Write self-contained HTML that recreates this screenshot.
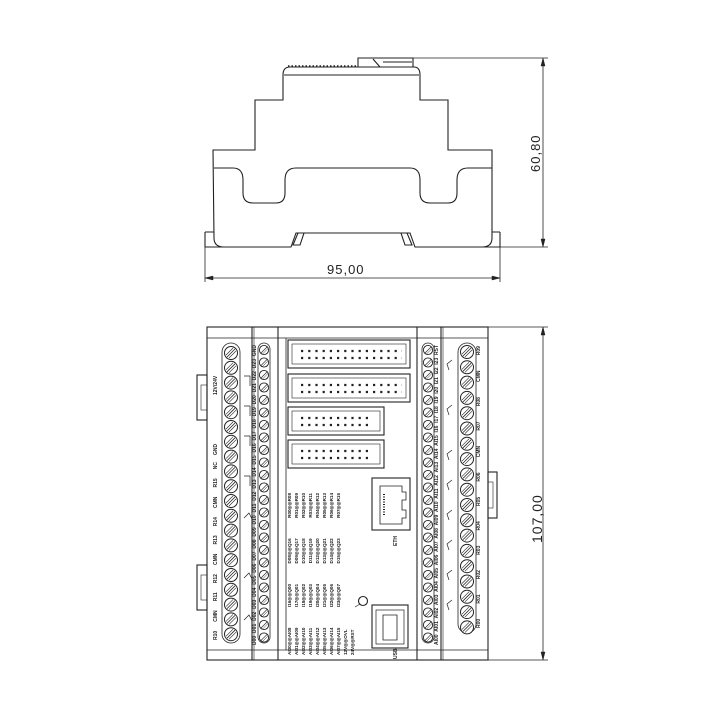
<!DOCTYPE html>
<html><head><meta charset="utf-8"><style>
html,body{margin:0;padding:0;background:#fff;}
body{position:relative;width:720px;height:720px;overflow:hidden;}
svg{position:absolute;left:0;top:0;}
.t{position:absolute;font-family:"Liberation Sans",sans-serif;color:#222;white-space:nowrap;transform-origin:0 0;transform:rotate(-90deg);line-height:1;}
.f{display:flex;justify-content:space-between;font-size:5px;font-weight:bold;}
.c{font-size:4.6px;display:flex;justify-content:space-between;font-weight:bold;}
.d{position:absolute;font-family:"Liberation Sans",sans-serif;color:#222;letter-spacing:1px;line-height:1;font-weight:normal;}
</style></head><body>
<svg width="720" height="720" viewBox="0 0 720 720" xmlns="http://www.w3.org/2000/svg" xmlns:xlink="http://www.w3.org/1999/xlink">
<defs>
<g id="sc"><circle r="6.5" fill="#fff" stroke="#222" stroke-width="1"/><line x1="-4" y1="4" x2="4" y2="-4" stroke="#222" stroke-width="0.8"/><line x1="-2" y1="5" x2="5" y2="-2" stroke="#222" stroke-width="0.6"/><line x1="-5" y1="2" x2="2" y2="-5" stroke="#222" stroke-width="0.6"/></g>
<g id="sm"><circle r="4.6" fill="#fff" stroke="#222" stroke-width="0.9"/><line x1="-3" y1="3" x2="3" y2="-3" stroke="#222" stroke-width="0.6"/><line x1="-1.5" y1="4" x2="4" y2="-1.5" stroke="#222" stroke-width="0.5"/></g>
</defs>
<g fill="none" stroke="#222" stroke-width="1.1">
<path d="M358,67 L358,58 L413,58 L413,67"/>
<line x1="373" y1="59" x2="380" y2="67"/><line x1="383" y1="62" x2="412" y2="62"/>
<line x1="288" y1="66" x2="356" y2="66" stroke-dasharray="1.5 2" stroke-width="1.5"/>
<path d="M283,75 Q283,67 290,67 L414,67 Q420,67 420,75 L420,100 L448,100 L448,150 L492,150 L492,238 Q492,247 482,247 L415,247 L410,233 L296,233 L291,247 L224,247 Q214,247 214,238 L213,150 L255,150 L255,100 L283,100 Z"/>
<line x1="284" y1="75" x2="419" y2="75"/>
<path d="M214,168 L233,168 Q243,168 243,180 L243,193 Q243,203 253,203 L276,203 Q285,203 285,193 L285,180 Q285,168 296,168 L410,168 Q420,168 420,180 L420,193 Q420,203 430,203 L448,203 Q457,203 457,193 L457,180 Q457,168 468,168 L492,168"/>
<path d="M205,232 L214,232 M205,232 L205,247 L224,247 M500,232 L492,232 M500,232 L500,247 L482,247"/>
<path d="M293,245 L298,233 L304,233 L300,245 Z M412,245 L407,233 L401,233 L405,245 Z"/>
<g stroke-width="0.8">
<line x1="413" y1="58" x2="548" y2="58"/><line x1="500" y1="247" x2="548" y2="247"/>
<line x1="543" y1="58" x2="543" y2="247"/>
<line x1="205" y1="247" x2="205" y2="282"/><line x1="500" y1="247" x2="500" y2="282"/>
<line x1="205" y1="278" x2="500" y2="278"/>
</g>
<path d="M543,58 l-2,8 l4,0 z M543,247 l-2,-8 l4,0 z M205,278 l8,-2 l0,4 z M500,278 l-8,-2 l0,4 z" fill="#222" stroke-width="0.5"/>

<rect x="207" y="327" width="281" height="333"/>
<line x1="207" y1="338" x2="488" y2="338" stroke-width="0.7"/>
<line x1="207" y1="650" x2="488" y2="650" stroke-width="0.7"/>
<line x1="252" y1="327" x2="252" y2="660"/><line x1="254" y1="327" x2="254" y2="660" stroke-width="0.6"/>
<line x1="278" y1="327" x2="278" y2="660"/><line x1="286" y1="338" x2="286" y2="650" stroke-width="0.8"/>
<line x1="417" y1="327" x2="417" y2="660"/><line x1="441" y1="327" x2="441" y2="660"/><line x1="443" y1="327" x2="443" y2="660" stroke-width="0.6"/>
<rect x="197" y="375" width="10" height="45"/><rect x="201" y="385" width="6" height="25" stroke-width="0.6"/>
<rect x="197" y="565" width="10" height="45"/><rect x="201" y="575" width="6" height="25" stroke-width="0.6"/>
<rect x="488" y="472" width="9" height="46"/><rect x="488" y="482" width="5" height="26" stroke-width="0.6"/>
<rect x="222" y="343" width="18" height="300" rx="9" stroke-width="0.8"/>
<rect x="458" y="343" width="18" height="290" rx="9" stroke-width="0.8"/>
<rect x="258" y="343" width="12" height="300" rx="6" stroke-width="0.8"/>
<rect x="422" y="343" width="12" height="300" rx="6" stroke-width="0.8"/>
<path d="M244,376 l6,0 l0,10 M244,406 l6,0 l0,10 M244,436 l6,0 l0,10 M244,476 l6,0 l0,10 M244,518 l5,-5 l3,6 M244,578 l5,-5 l3,6 M244,620 l5,-5 l3,6" stroke-width="0.7"/>
<path d="M452,360 l-5,4 l2,6 M452,405 l-5,4 l2,6 M452,450 l-5,4 l2,6 M452,480 l-5,4 l2,6 M452,510 l-5,4 l2,6 M452,540 l-5,4 l2,6 M452,570 l-5,4 l2,6 M452,600 l-5,4 l2,6" stroke-width="0.7"/>
<rect x="288" y="340" width="122" height="28"/><rect x="292" y="344" width="114" height="20" stroke-width="0.6"/>
<rect x="288" y="374" width="122" height="28"/><rect x="292" y="378" width="114" height="20" stroke-width="0.6"/>
<rect x="288" y="407" width="96" height="28"/><rect x="292" y="411" width="88" height="20" stroke-width="0.6"/>
<rect x="288" y="440" width="96" height="28"/><rect x="292" y="444" width="88" height="20" stroke-width="0.6"/>
<g stroke-width="2.2" stroke-dasharray="2.2 5">
<line x1="301" y1="351" x2="402" y2="351"/><line x1="301" y1="358" x2="402" y2="358"/>
<line x1="301" y1="385" x2="402" y2="385"/><line x1="301" y1="392" x2="402" y2="392"/>
<line x1="301" y1="418" x2="372" y2="418"/><line x1="301" y1="425" x2="372" y2="425"/>
<line x1="301" y1="451" x2="372" y2="451"/><line x1="301" y1="458" x2="372" y2="458"/>
</g>
<rect x="372" y="478" width="38" height="52"/>
<path d="M380,486 L402,486 L402,492 L406,492 L406,500 L402,500 L402,510 L406,510 L406,518 L402,518 L402,524 L380,524 Z" stroke-width="0.8"/>
<line x1="384" y1="494" x2="384" y2="516" stroke-width="2" stroke-dasharray="1 1.5"/>
<rect x="372" y="605" width="36" height="43"/><rect x="376" y="610" width="28" height="34" stroke-width="0.7"/>
<path d="M383,615 L397,615 L397,640 L383,640 Z" stroke-width="0.8"/>
<circle cx="363" cy="601" r="4.5"/><line x1="355" y1="607" x2="360" y2="604" stroke-width="0.7"/>
<g stroke-width="0.8"><line x1="488" y1="327" x2="548" y2="327"/><line x1="488" y1="660" x2="548" y2="660"/><line x1="543" y1="327" x2="543" y2="660"/></g>
<path d="M543,327 l-2,8 l4,0 z M543,660 l-2,-8 l4,0 z" fill="#222" stroke-width="0.5"/>
</g>
<g>
<use href="#sc" xlink:href="#sc" x="231" y="353"/><use href="#sc" xlink:href="#sc" x="231" y="367.8"/><use href="#sc" xlink:href="#sc" x="231" y="382.6"/><use href="#sc" xlink:href="#sc" x="231" y="397.4"/><use href="#sc" xlink:href="#sc" x="231" y="412.2"/><use href="#sc" xlink:href="#sc" x="231" y="427"/><use href="#sc" xlink:href="#sc" x="231" y="441.8"/><use href="#sc" xlink:href="#sc" x="231" y="456.6"/><use href="#sc" xlink:href="#sc" x="231" y="471.4"/><use href="#sc" xlink:href="#sc" x="231" y="486.2"/><use href="#sc" xlink:href="#sc" x="231" y="501"/><use href="#sc" xlink:href="#sc" x="231" y="515.8"/><use href="#sc" xlink:href="#sc" x="231" y="530.6"/><use href="#sc" xlink:href="#sc" x="231" y="545.4"/><use href="#sc" xlink:href="#sc" x="231" y="560.2"/><use href="#sc" xlink:href="#sc" x="231" y="575"/><use href="#sc" xlink:href="#sc" x="231" y="589.8"/><use href="#sc" xlink:href="#sc" x="231" y="604.6"/><use href="#sc" xlink:href="#sc" x="231" y="619.4"/><use href="#sc" xlink:href="#sc" x="231" y="634.2"/>
<use href="#sc" xlink:href="#sc" x="467" y="352"/><use href="#sc" xlink:href="#sc" x="467" y="367.3"/><use href="#sc" xlink:href="#sc" x="467" y="382.6"/><use href="#sc" xlink:href="#sc" x="467" y="397.9"/><use href="#sc" xlink:href="#sc" x="467" y="413.2"/><use href="#sc" xlink:href="#sc" x="467" y="428.5"/><use href="#sc" xlink:href="#sc" x="467" y="443.8"/><use href="#sc" xlink:href="#sc" x="467" y="459.1"/><use href="#sc" xlink:href="#sc" x="467" y="474.4"/><use href="#sc" xlink:href="#sc" x="467" y="489.7"/><use href="#sc" xlink:href="#sc" x="467" y="505"/><use href="#sc" xlink:href="#sc" x="467" y="520.3"/><use href="#sc" xlink:href="#sc" x="467" y="535.6"/><use href="#sc" xlink:href="#sc" x="467" y="550.9"/><use href="#sc" xlink:href="#sc" x="467" y="566.2"/><use href="#sc" xlink:href="#sc" x="467" y="581.5"/><use href="#sc" xlink:href="#sc" x="467" y="596.8"/><use href="#sc" xlink:href="#sc" x="467" y="612.1"/><use href="#sc" xlink:href="#sc" x="467" y="627.4"/>
<use href="#sm" xlink:href="#sm" x="264" y="350"/><use href="#sm" xlink:href="#sm" x="264" y="362.5"/><use href="#sm" xlink:href="#sm" x="264" y="375"/><use href="#sm" xlink:href="#sm" x="264" y="387.5"/><use href="#sm" xlink:href="#sm" x="264" y="400"/><use href="#sm" xlink:href="#sm" x="264" y="412.5"/><use href="#sm" xlink:href="#sm" x="264" y="425"/><use href="#sm" xlink:href="#sm" x="264" y="437.5"/><use href="#sm" xlink:href="#sm" x="264" y="450"/><use href="#sm" xlink:href="#sm" x="264" y="462.5"/><use href="#sm" xlink:href="#sm" x="264" y="475"/><use href="#sm" xlink:href="#sm" x="264" y="487.5"/><use href="#sm" xlink:href="#sm" x="264" y="500"/><use href="#sm" xlink:href="#sm" x="264" y="512.5"/><use href="#sm" xlink:href="#sm" x="264" y="525"/><use href="#sm" xlink:href="#sm" x="264" y="537.5"/><use href="#sm" xlink:href="#sm" x="264" y="550"/><use href="#sm" xlink:href="#sm" x="264" y="562.5"/><use href="#sm" xlink:href="#sm" x="264" y="575"/><use href="#sm" xlink:href="#sm" x="264" y="587.5"/><use href="#sm" xlink:href="#sm" x="264" y="600"/><use href="#sm" xlink:href="#sm" x="264" y="612.5"/><use href="#sm" xlink:href="#sm" x="264" y="625"/><use href="#sm" xlink:href="#sm" x="264" y="637.5"/>
<use href="#sm" xlink:href="#sm" x="428" y="350"/><use href="#sm" xlink:href="#sm" x="428" y="362.5"/><use href="#sm" xlink:href="#sm" x="428" y="375"/><use href="#sm" xlink:href="#sm" x="428" y="387.5"/><use href="#sm" xlink:href="#sm" x="428" y="400"/><use href="#sm" xlink:href="#sm" x="428" y="412.5"/><use href="#sm" xlink:href="#sm" x="428" y="425"/><use href="#sm" xlink:href="#sm" x="428" y="437.5"/><use href="#sm" xlink:href="#sm" x="428" y="450"/><use href="#sm" xlink:href="#sm" x="428" y="462.5"/><use href="#sm" xlink:href="#sm" x="428" y="475"/><use href="#sm" xlink:href="#sm" x="428" y="487.5"/><use href="#sm" xlink:href="#sm" x="428" y="500"/><use href="#sm" xlink:href="#sm" x="428" y="512.5"/><use href="#sm" xlink:href="#sm" x="428" y="525"/><use href="#sm" xlink:href="#sm" x="428" y="537.5"/><use href="#sm" xlink:href="#sm" x="428" y="550"/><use href="#sm" xlink:href="#sm" x="428" y="562.5"/><use href="#sm" xlink:href="#sm" x="428" y="575"/><use href="#sm" xlink:href="#sm" x="428" y="587.5"/><use href="#sm" xlink:href="#sm" x="428" y="600"/><use href="#sm" xlink:href="#sm" x="428" y="612.5"/><use href="#sm" xlink:href="#sm" x="428" y="625"/><use href="#sm" xlink:href="#sm" x="428" y="637.5"/>
</g>
</svg>

<div class="t f" style="left:214px;top:640px;width:178px;"><span>R10</span><span>CMN</span><span>R11</span><span>R12</span><span>CMN</span><span>R13</span><span>R14</span><span>CMN</span><span>R15</span><span>NC</span></div>
<div class="t f" style="left:214px;top:455px;width:14px;"><span>GND</span></div>
<div class="t f" style="left:214px;top:395px;width:22px;"><span>12V/24V</span></div>
<div class="t f" style="left:253px;top:645px;width:300px;"><span>D00</span><span>D01</span><span>D02</span><span>D03</span><span>D04</span><span>D05</span><span>D06</span><span>D07</span><span>D08</span><span>D09</span><span>D10</span><span>D11</span><span>D12</span><span>D13</span><span>D14</span><span>D15</span><span>D16</span><span>D17</span><span>D18</span><span>D19</span><span>D20</span><span>D21</span><span>D22</span><span>D23</span><span>GND</span></div>
<div class="t f" style="left:435px;top:645px;width:300px;"><span>AI00</span><span>AI01</span><span>AI02</span><span>AI03</span><span>AI04</span><span>AI05</span><span>AI06</span><span>AI07</span><span>AI08</span><span>AI09</span><span>AI10</span><span>AI11</span><span>AI12</span><span>AI13</span><span>AI14</span><span>AI15</span><span>I16</span><span>I17</span><span>I18</span><span>I19</span><span>I20</span><span>I21</span><span>I22</span><span>I23</span><span>RST</span></div>
<div class="t f" style="left:477px;top:628px;width:282px;"><span>R00</span><span>R01</span><span>R02</span><span>R03</span><span>R04</span><span>R05</span><span>R06</span><span>CMN</span><span>R07</span><span>R08</span><span>CMN</span><span>R09</span></div>
<div class="t c" style="left:288px;top:655px;width:162px;"><span>AI00◎◎AI08</span><span>I16◎◎Q00</span><span>D08◎◎Q16</span><span>R00◎◎R08</span></div>
<div class="t c" style="left:295px;top:655px;width:162px;"><span>AI01◎◎AI09</span><span>I17◎◎Q01</span><span>D09◎◎Q17</span><span>R01◎◎R09</span></div>
<div class="t c" style="left:302px;top:655px;width:162px;"><span>AI02◎◎AI10</span><span>I18◎◎Q02</span><span>D10◎◎Q18</span><span>R02◎◎R10</span></div>
<div class="t c" style="left:309px;top:655px;width:162px;"><span>AI03◎◎AI11</span><span>I19◎◎Q03</span><span>D11◎◎Q19</span><span>R03◎◎R11</span></div>
<div class="t c" style="left:316px;top:655px;width:162px;"><span>AI04◎◎AI12</span><span>I20◎◎Q04</span><span>D12◎◎Q20</span><span>R04◎◎R12</span></div>
<div class="t c" style="left:323px;top:655px;width:162px;"><span>AI05◎◎AI13</span><span>I21◎◎Q05</span><span>D13◎◎Q21</span><span>R05◎◎R13</span></div>
<div class="t c" style="left:330px;top:655px;width:162px;"><span>AI06◎◎AI14</span><span>I22◎◎Q06</span><span>D14◎◎Q22</span><span>R06◎◎R14</span></div>
<div class="t c" style="left:337px;top:655px;width:162px;"><span>AI07◎◎AI15</span><span>I23◎◎Q07</span><span>D15◎◎Q23</span><span>R07◎◎R15</span></div>
<div class="t c" style="left:344px;top:655px;"><span>12V◎◎OVL</span></div>
<div class="t c" style="left:351px;top:655px;"><span>24V◎◎RST</span></div>
<div class="t f" style="left:394px;top:546px;"><span>ETH</span></div>
<div class="t f" style="left:394px;top:659px;"><span>USB</span></div>
<div class="d" style="left:327px;top:263px;font-size:13px;">95,00</div>
<div class="t d" style="left:529px;top:172px;font-size:13px;transform:rotate(-90deg);">60,80</div>
<div class="t d" style="left:530px;top:543px;font-size:14px;transform:rotate(-90deg);">107,00</div>
</body></html>
